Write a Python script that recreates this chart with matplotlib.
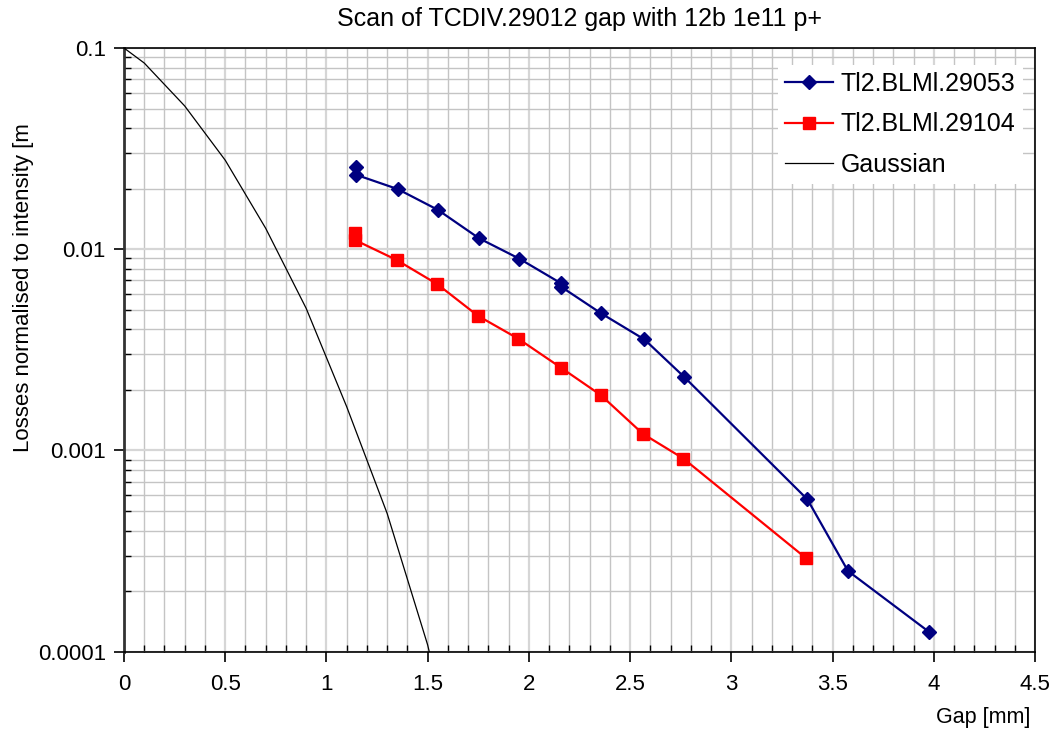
import numpy as np
import matplotlib
matplotlib.use("Agg")
from matplotlib import pyplot as plt
from matplotlib.ticker import MultipleLocator, LogLocator, FixedLocator, FuncFormatter, NullFormatter

plt.rcParams['font.family'] = ['Liberation Sans', 'DejaVu Sans']

# data
gap_29053 = [1.146, 1.146, 1.352, 1.550, 1.754, 1.953, 2.159, 2.159, 2.357, 2.571, 2.767, 3.376, 3.576, 3.974]
loss_29053 = [0.0255, 0.02345, 0.0199, 0.0157, 0.01133, 0.00897, 0.00677, 0.00651, 0.0048, 0.00356, 0.00232,
              0.000571, 0.000252, 0.000126]

gap_29104 = [1.141, 1.141, 1.347, 1.548, 1.748, 1.948, 2.158, 2.355, 2.563, 2.763, 3.370]
loss_29104 = [0.01208, 0.01111, 0.00884, 0.0067, 0.00467, 0.00359, 0.00258, 0.001885, 0.00121, 0.000912, 0.000291]

gap_gauss = [0.0, 0.1, 0.3, 0.5, 0.7, 0.9, 1.1, 1.3, 1.5, 1.7]
loss_gauss = [0.1, 0.0842, 0.0515, 0.0277, 0.0127, 0.00508, 0.00165, 0.000486, 0.000108, 0.000015]

fig = plt.figure(figsize=(10.59, 7.29), dpi=100)
ax = fig.add_axes([124/1059, 1-651.7/729, (1035-124)/1059, (651.7-48)/729])

ax.plot(gap_29053, loss_29053, color='#000080', lw=1.6, marker='D', ms=7.5, label='Tl2.BLMl.29053', zorder=4)
ax.plot(gap_29104, loss_29104, color='#ff0000', lw=1.6, marker='s', ms=8, label='Tl2.BLMl.29104', zorder=4)
ax.plot(gap_gauss, loss_gauss, color='black', lw=0.9, label='Gaussian', zorder=3)

ax.set_yscale('log')
ax.set_xlim(0, 4.5)
ax.set_ylim(0.0001, 0.1)

ax.xaxis.set_major_locator(MultipleLocator(0.5))
ax.xaxis.set_minor_locator(MultipleLocator(0.1))
ax.xaxis.set_major_formatter(FuncFormatter(lambda v, p: '%g' % v))
ax.yaxis.set_major_locator(FixedLocator([0.0001, 0.001, 0.01, 0.1]))
ax.yaxis.set_minor_locator(LogLocator(base=10, subs=np.arange(2, 10)))
ax.yaxis.set_major_formatter(FuncFormatter(lambda v, p: '%g' % v))
ax.yaxis.set_minor_formatter(NullFormatter())

ax.grid(which='minor', color='#c4c4c4', lw=1.0)
ax.grid(which='major', color='#d6d6d6', lw=1.6)
ax.set_axisbelow(True)

ax.tick_params(which='major', direction='out', length=7, width=1.2, labelsize=16)
ax.tick_params(which='minor', direction='in', length=5, width=1)
ax.tick_params(axis='y', which='major', pad=6)
ax.tick_params(axis='x', which='major', pad=9)

for s in ['top', 'right', 'bottom']:
    ax.spines[s].set_linewidth(1.2)
ax.spines['left'].set_linewidth(2)
ax.spines['left'].set_color('#333333')

fig.text(579.5/1059, 1-19/729, 'Scan of TCDIV.29012 gap with 12b 1e11 p+', ha='center', va='center', fontsize=18)
fig.text(24/1059, 1-288/729, 'Losses normalised to intensity [m', rotation=90, ha='center', va='center', fontsize=16)
fig.text(1030/1059, 1-718/729, 'Gap [mm]', ha='right', va='center', fontsize=15.5)

leg = ax.legend(loc='upper right', bbox_to_anchor=(1.0, 0.993), fontsize=18, frameon=True, fancybox=False,
                framealpha=1, edgecolor='none', handlelength=1.9, handletextpad=0.3, labelspacing=0.65,
                borderpad=0.3)

plt.savefig('out.png', dpi=100)
